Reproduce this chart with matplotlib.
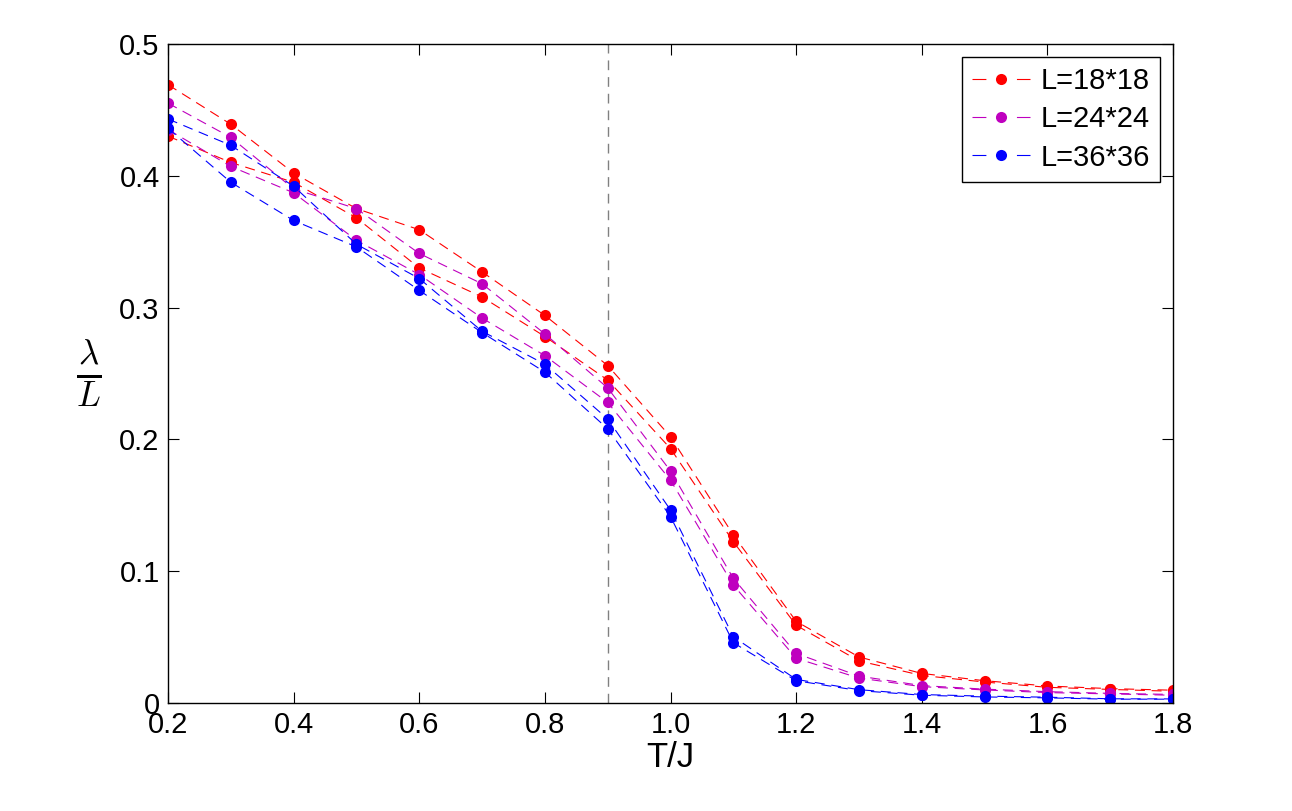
import matplotlib
matplotlib.use('Agg')
import matplotlib.pyplot as plt
from matplotlib.lines import Line2D

plt.rcParams['font.family'] = ['Liberation Sans', 'DejaVu Sans']
plt.rcParams['mathtext.fontset'] = 'cm'

# temperatures
T = [0.2, 0.3, 0.4, 0.5, 0.6, 0.7, 0.8, 0.9, 1.0, 1.1, 1.2, 1.3, 1.4, 1.5, 1.6, 1.7, 1.8]

# two curves per lattice size
red_a = [0.469, 0.439, 0.402, 0.375, 0.359, 0.327, 0.294, 0.256, 0.202, 0.1275, 0.062, 0.035, 0.0225, 0.017, 0.013, 0.011, 0.0098]
red_b = [0.430, 0.410, 0.395, 0.368, 0.330, 0.308, 0.278, 0.245, 0.193, 0.1224, 0.059, 0.032, 0.021, 0.016, 0.012, 0.0104, 0.009]
mag_a = [0.455, 0.429, 0.390, 0.375, 0.341, 0.318, 0.280, 0.239, 0.176, 0.0946, 0.0377, 0.0205, 0.0133, 0.0106, 0.0087, 0.0074, 0.0066]
mag_b = [0.435, 0.407, 0.387, 0.351, 0.325, 0.292, 0.2635, 0.228, 0.169, 0.0895, 0.034, 0.019, 0.0125, 0.010, 0.008, 0.007, 0.006]
blu_a = [0.443, 0.423, 0.392, 0.348, 0.322, 0.282, 0.257, 0.2155, 0.1464, 0.0503, 0.018, 0.0102, 0.0065, 0.0053, 0.0045, 0.0033, 0.0032]
blu_b = [0.436, 0.395, 0.366, 0.346, 0.313, 0.281, 0.251, 0.208, 0.1414, 0.0458, 0.017, 0.0095, 0.006, 0.0047, 0.004, 0.003, 0.003]

labels = ['L=18*18', 'L=24*24', 'L=36*36']
colors = ['#ff0000', '#bf00bf', '#0000ff']
series = [(red_a, red_b), (mag_a, mag_b), (blu_a, blu_b)]

fig = plt.figure(figsize=(12.92, 8.11), dpi=100)
ax = fig.add_axes([0.130, 0.133, 0.778, 0.813])

ax.axvline(0.9, color='#808080', linestyle=(0, (7, 5)), linewidth=1.0, zorder=1)

dash = (0, (9, 6))
handles = []
for (a, b), c, lab in zip(series, colors, labels):
    ax.plot(T, a, linestyle=dash, color=c, linewidth=0.8, marker='o',
            markersize=8, markeredgewidth=0)
    ax.plot(T, b, linestyle=dash, color=c, linewidth=0.8, marker='o',
            markersize=8, markeredgewidth=0)
    # legend sample: dash - dot - dash
    handles.append(Line2D([], [], color=c, linewidth=0.8,
                          linestyle=(0, (10 / 0.8, 22 / 0.8)),
                          marker='o', markersize=8, markeredgewidth=0,
                          label=lab))

ax.set_xlim(0.2, 1.8)
ax.set_ylim(0, 0.5)
ax.set_xticks([0.2, 0.4, 0.6, 0.8, 1.0, 1.2, 1.4, 1.6, 1.8])
ax.set_xticklabels(['0.2', '0.4', '0.6', '0.8', '1.0', '1.2', '1.4', '1.6', '1.8'])
ax.set_yticks([0, 0.1, 0.2, 0.3, 0.4, 0.5])
ax.set_yticklabels(['0', '0.1', '0.2', '0.3', '0.4', '0.5'])
ax.tick_params(direction='in', top=True, right=True, length=8, width=0.8,
               labelsize=21)
ax.tick_params(axis='x', pad=6)
ax.tick_params(axis='y', pad=6)
for s in ax.spines.values():
    s.set_linewidth(1.0)

ax.set_xlabel('T/J', fontsize=25, labelpad=1)
ax.set_ylabel(r'$\frac{\lambda}{L}$', fontsize=36, rotation=0, labelpad=22,
              va='center')

leg = ax.legend(handles=handles, loc='upper right', fontsize=21, frameon=True,
                fancybox=False, edgecolor='black', framealpha=1,
                handlelength=42 / 21, borderpad=0.35, labelspacing=0.35,
                handletextpad=0.35, borderaxespad=0.45)
leg.get_frame().set_linewidth(1.0)

fig.savefig('out.png', dpi=100)
